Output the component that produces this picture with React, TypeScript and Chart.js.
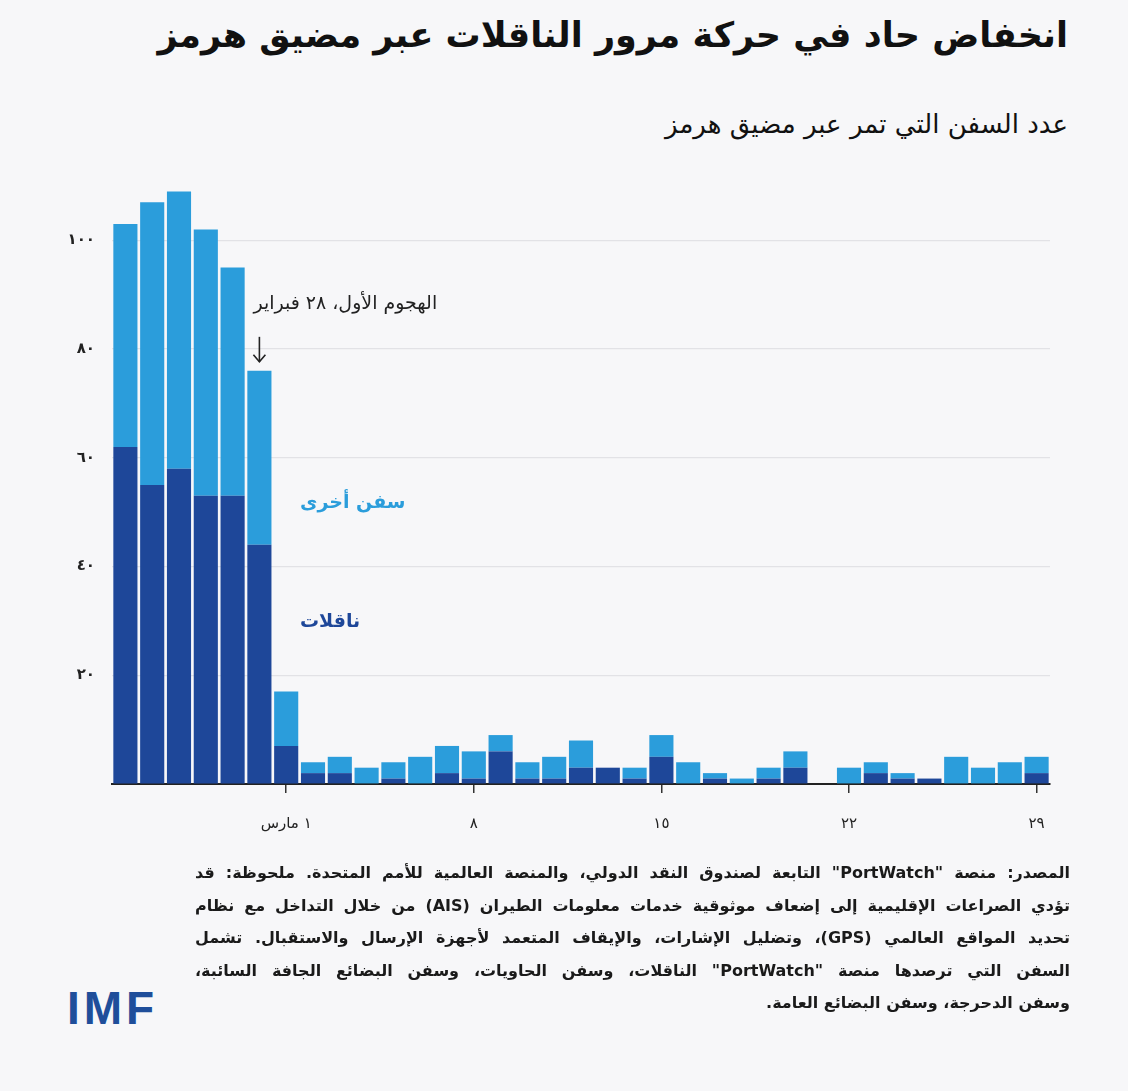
import React, { useEffect, useRef } from "react";
import { Chart, registerables } from "chart.js";

Chart.register(...registerables);

const categories = [
  "٢٣ فبراير", "٢٤ فبراير", "٢٥ فبراير", "٢٦ فبراير", "٢٧ فبراير", "٢٨ فبراير",
  "١ مارس", "٢ مارس", "٣ مارس", "٤ مارس", "٥ مارس", "٦ مارس", "٧ مارس",
  "٨ مارس", "٩ مارس", "١٠ مارس", "١١ مارس", "١٢ مارس", "١٣ مارس", "١٤ مارس",
  "١٥ مارس", "١٦ مارس", "١٧ مارس", "١٨ مارس", "١٩ مارس", "٢٠ مارس", "٢١ مارس",
  "٢٢ مارس", "٢٣ مارس", "٢٤ مارس", "٢٥ مارس", "٢٦ مارس", "٢٧ مارس", "٢٨ مارس",
  "٢٩ مارس",
];

const tankers = [62, 55, 58, 53, 53, 44, 7, 2, 2, 0, 1, 0, 2, 1, 6, 1, 1, 3, 3, 1, 5, 0, 1, 0, 1, 3, 0, 0, 2, 1, 1, 0, 0, 0, 2];
const otherShips = [41, 52, 51, 49, 42, 32, 10, 2, 3, 3, 3, 5, 5, 5, 3, 3, 4, 5, 0, 2, 4, 4, 1, 1, 2, 3, 0, 3, 2, 1, 0, 5, 3, 4, 3];

const xTickLabels: Record<string, string> = {
  "١ مارس": "١ مارس",
  "٨ مارس": "٨",
  "١٥ مارس": "١٥",
  "٢٢ مارس": "٢٢",
  "٢٩ مارس": "٢٩",
};

const yTickValues = [20, 40, 60, 80, 100];

const attackCategory = "٢٨ فبراير";
const attackLabel = "الهجوم الأول، ٢٨ فبراير";
const tankersLabel = "ناقلات";
const otherLabel = "سفن أخرى";

const DARK = "#1e4799";
const LIGHT = "#2b9ddb";
const BG = "#f7f7f9";
const FONT = "'DejaVu Sans', sans-serif";

const toArabicDigits = (n: number | string) =>
  String(n).replace(/[0-9]/g, (d) => "٠١٢٣٤٥٦٧٨٩"[Number(d)]);

const footerLines = [
  "المصدر: منصة \"PortWatch\" التابعة لصندوق النقد الدولي، والمنصة العالمية للأمم المتحدة. ملحوظة: قد",
  "تؤدي الصراعات الإقليمية إلى إضعاف موثوقية خدمات معلومات الطيران (AIS) من خلال التداخل مع نظام",
  "تحديد المواقع العالمي (GPS)، وتضليل الإشارات، والإيقاف المتعمد لأجهزة الإرسال والاستقبال. تشمل",
  "السفن التي ترصدها منصة \"PortWatch\" الناقلات، وسفن الحاويات، وسفن البضائع الجافة السائبة،",
  "وسفن الدحرجة، وسفن البضائع العامة.",
];

const CANVAS_TOP = 160;
const CANVAS_W = 1128;
const CANVAS_H = 700;

export default function App() {
  const canvasRef = useRef<HTMLCanvasElement | null>(null);

  useEffect(() => {
    document.body.style.margin = "0";
    document.body.style.background = BG;
    const canvas = canvasRef.current;
    if (!canvas) return;

    const annotationPlugin = {
      id: "annotations",
      afterDraw(chart: any) {
        const ctx = chart.ctx as CanvasRenderingContext2D;
        const xs = chart.scales.x;
        const ys = chart.scales.y;
        const idx = categories.indexOf(attackCategory);
        const bx = xs.getPixelForValue(idx);
        const top = ys.getPixelForValue(tankers[idx] + otherShips[idx]);
        ctx.save();
        ctx.strokeStyle = "#222";
        ctx.lineWidth = 1.6;
        ctx.beginPath();
        ctx.moveTo(bx, top - 34);
        ctx.lineTo(bx, top - 9);
        ctx.stroke();
        ctx.beginPath();
        ctx.moveTo(bx - 6, top - 16);
        ctx.lineTo(bx, top - 9);
        ctx.lineTo(bx + 6, top - 16);
        ctx.stroke();
        ctx.direction = "rtl";
        ctx.fillStyle = "#222";
        ctx.font = `19px ${FONT}`;
        ctx.textAlign = "left";
        ctx.textBaseline = "middle";
        ctx.fillText(attackLabel, bx - 6, top - 67);
        ctx.font = `bold 19px ${FONT}`;
        ctx.fillStyle = LIGHT;
        ctx.fillText(otherLabel, 300, 343);
        ctx.fillStyle = DARK;
        ctx.fillText(tankersLabel, 300, 462);
        ctx.restore();
      },
    };

    const chart = new Chart(canvas, {
      type: "bar",
      data: {
        labels: categories,
        datasets: [
          {
            label: tankersLabel,
            data: tankers,
            backgroundColor: DARK,
            stack: "s",
            barPercentage: 0.9,
            categoryPercentage: 1,
          },
          {
            label: otherLabel,
            data: otherShips,
            backgroundColor: LIGHT,
            stack: "s",
            barPercentage: 0.9,
            categoryPercentage: 1,
          },
        ],
      },
      options: {
        responsive: false,
        animation: false,
        layout: { padding: { top: 19, right: 78, left: 0, bottom: 0 } },
        plugins: {
          legend: { display: false },
          tooltip: { enabled: false },
        },
        scales: {
          x: {
            stacked: true,
            afterFit: (s: any) => {
              s.height = 76;
            },
            border: { display: true, color: "#222", width: 2 },
            grid: {
              display: true,
              drawOnChartArea: false,
              drawTicks: true,
              tickLength: 9,
              offset: false,
              lineWidth: 1.5,
              color: (c: any) =>
                xTickLabels[categories[c.index]] ? "#333" : "rgba(0,0,0,0)",
            },
            ticks: {
              autoSkip: false,
              maxRotation: 0,
              padding: 22,
              color: "#222",
              font: { family: FONT, size: 15 },
              callback: (_v: any, i: number) => xTickLabels[categories[i]] ?? "",
            },
          },
          y: {
            stacked: true,
            min: 0,
            max: 110,
            afterFit: (s: any) => {
              s.width = 112;
            },
            afterBuildTicks: (s: any) => {
              s.ticks = [0, ...yTickValues, 110].map((v) => ({ value: v }));
            },
            border: { display: false },
            grid: {
              drawTicks: false,
              color: (c: any) =>
                yTickValues.includes(c.tick?.value) ? "#e2e2e6" : "rgba(0,0,0,0)",
              lineWidth: 1.2,
            },
            ticks: {
              padding: 17,
              color: "#222",
              font: { family: FONT, size: 15, weight: "bold" },
              callback: (v: any) =>
                yTickValues.includes(Number(v)) ? toArabicDigits(v) : "",
            },
          },
        },
      },
      plugins: [annotationPlugin],
    } as any);

    return () => chart.destroy();
  }, []);

  return (
    <div
      style={{
        position: "relative",
        width: 1128,
        height: 1091,
        background: BG,
        fontFamily: FONT,
        overflow: "hidden",
      }}
    >
      <div
        dir="rtl"
        style={{
          position: "absolute",
          right: 60,
          top: 8,
          fontSize: 35,
          fontWeight: "bold",
          color: "#111",
          whiteSpace: "nowrap",
          lineHeight: "54px",
        }}
      >
        انخفاض حاد في حركة مرور الناقلات عبر مضيق هرمز
      </div>
      <div
        dir="rtl"
        style={{
          position: "absolute",
          right: 60,
          top: 106,
          fontSize: 26,
          color: "#111",
          whiteSpace: "nowrap",
          lineHeight: "36px",
        }}
      >
        عدد السفن التي تمر عبر مضيق هرمز
      </div>
      <canvas
        ref={canvasRef}
        width={CANVAS_W}
        height={CANVAS_H}
        style={{ position: "absolute", left: 0, top: CANVAS_TOP, width: CANVAS_W, height: CANVAS_H }}
      />
      <div
        dir="rtl"
        style={{
          position: "absolute",
          right: 58,
          top: 857,
          width: 875,
          fontSize: 16,
          fontWeight: "bold",
          color: "#1a1a1a",
          lineHeight: "32.5px",
        }}
      >
        {footerLines.map((line, i) => (
          <div
            key={i}
            style={{
              whiteSpace: "nowrap",
              textAlign: i < footerLines.length - 1 ? "justify" : "right",
              textAlignLast: i < footerLines.length - 1 ? "justify" : "right",
            } as any}
          >
            {line}
          </div>
        ))}
      </div>
      <div
        style={{
          position: "absolute",
          left: 67,
          top: 982,
          fontFamily: "'Liberation Sans', Arial, sans-serif",
          fontWeight: "bold",
          fontSize: 46,
          letterSpacing: 4,
          color: "#1f4e9a",
          lineHeight: "52px",
        }}
      >
        IMF
      </div>
    </div>
  );
}
